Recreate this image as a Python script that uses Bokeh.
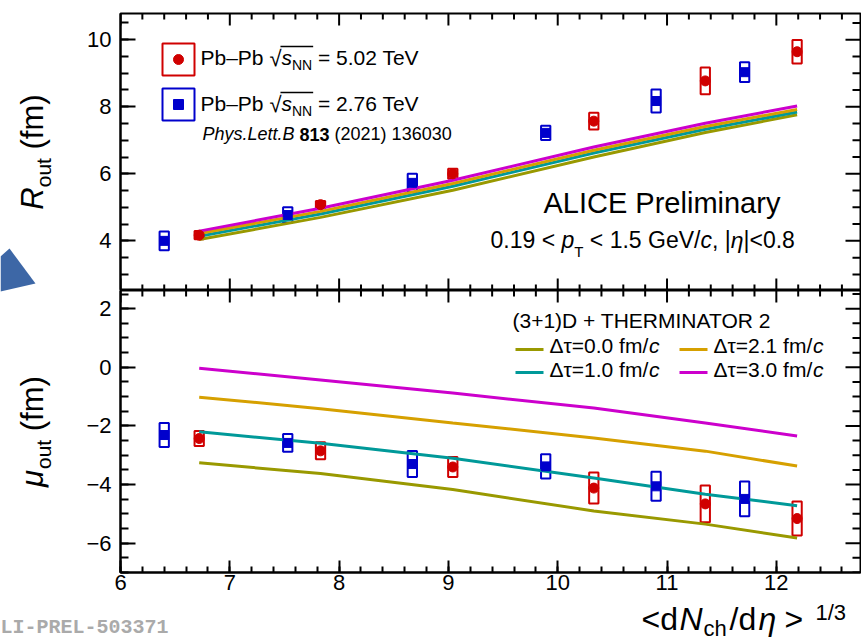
import math
import numpy as np
from bokeh.plotting import figure
from bokeh.models import Range1d, LinearAxis, SingleIntervalTicker, Label
from bokeh.layouts import column, row
from bokeh.embed import file_html
from bokeh.resources import INLINE

# ---------------- data ----------------
mult_502 = [6.72, 7.83, 9.04, 10.33, 11.35, 12.19]
mult_276 = [6.40, 7.53, 8.67, 9.89, 10.90, 11.71]

rout_502 = [4.17, 5.08, 6.00, 7.57, 8.77, 9.64]
rout_502_sys = [0.25, 0.22, 0.30, 0.50, 0.80, 0.70]
rout_276 = [4.00, 4.77, 5.73, 7.22, 8.17, 9.03]
rout_276_sys = [0.56, 0.46, 0.54, 0.42, 0.69, 0.59]

mu_502 = [-2.43, -2.85, -3.40, -4.12, -4.66, -5.16]
mu_502_sys = [0.51, 0.58, 0.68, 1.06, 1.26, 1.16]
mu_276 = [-2.31, -2.58, -3.30, -3.38, -4.06, -4.49]
mu_276_sys = [0.82, 0.61, 0.89, 0.82, 0.99, 1.19]

model_x = [6.72, 7.83, 9.04, 10.33, 11.35, 12.19]
rout_dt00 = [4.04, 4.70, 5.51, 6.50, 7.23, 7.76]
rout_dt10 = [4.14, 4.80, 5.63, 6.62, 7.33, 7.84]
rout_dt21 = [4.22, 4.88, 5.71, 6.70, 7.41, 7.92]
rout_dt30 = [4.29, 4.97, 5.81, 6.80, 7.51, 8.02]
mu_dt00 = [-3.26, -3.62, -4.17, -4.90, -5.35, -5.82]
mu_dt10 = [-2.20, -2.59, -3.10, -3.78, -4.33, -4.72]
mu_dt21 = [-1.02, -1.41, -1.90, -2.41, -2.86, -3.37]
mu_dt30 = [-0.03, -0.43, -0.88, -1.39, -1.90, -2.34]

x_ticks = [6, 7, 8, 9, 10, 11, 12]
x_tick_labels = ["6", "7", "8", "9", "10", "11", "12"]
rout_ticks = [4, 6, 8, 10]
rout_tick_labels = ["4", "6", "8", "10"]
mu_ticks = [2, 0, -2, -4, -6]
mu_tick_labels = ["2", "0", "\u22122", "\u22124", "\u22126"]

# ---------------- styles / layout ----------------
FONT = "Liberation Sans"
RED = "#d00000"
BLUE = "#0000cc"
OLIVE = "#999900"
CYAN = "#009999"
ORANGE = "#d6a000"
MAGENTA = "#cc00cc"

LW = 60             # left strip (y titles)
MAIN_W = 801
BL, BR = 60, 1      # inside main figures
X0, X1 = 6.0, 12.77
P1_H, P1_BT = 290, 13
P2_FH, P2_BB = 282, 27
P2_H = P2_FH + P2_BB
TOTAL_H = 640
STRIP_H = TOTAL_H - P1_H - P2_H
Y1_0, Y1_1 = 2.52, 10.78
Y2_0, Y2_1 = -7.0, 2.62
BASE_COMP = 0.36    # Label baseline correction (fraction of font size)

FRAME_L = LW + BL
XS = (MAIN_W - BL - BR) / (X1 - X0)
TS = (P1_H - P1_BT) / (Y1_1 - Y1_0)
BS = P2_FH / (Y2_1 - Y2_0)


def ix(px):
    return X0 + (px - FRAME_L) / XS


def iy1(py):
    return Y1_1 - (py - P1_BT) / TS


def iy2(py):
    return Y2_1 - (py - P1_H) / BS


WID = {' ': 278, '(': 333, ')': 333, '+': 584, ',': 278, '-': 333, '.': 278, '/': 278,
       '<': 584, '=': 584, '>': 584, 'A': 667, 'B': 667, 'C': 722, 'D': 722, 'E': 667,
       'G': 778, 'H': 722, 'I': 278, 'L': 556, 'M': 833, 'N': 722, 'O': 778, 'P': 667,
       'R': 722, 'T': 611, 'V': 667, 'a': 556, 'b': 556, 'c': 500, 'd': 556, 'e': 556,
       'f': 278, 'h': 556, 'i': 222, 'l': 222, 'm': 833, 'n': 556, 'o': 556, 'p': 556,
       'r': 333, 's': 500, 't': 278, 'u': 556, 'y': 500, '|': 260, '\u2013': 556,
       '\u221a': 549, '\u0394': 668, '\u03c4': 430, '\u03b7': 556, '\u03bc': 576}


def tw(s, size):
    return sum(WID.get(ch, 556) for ch in s) / 1000.0 * size


def put(p, x, y, text, size, style="normal", xo=0.0, yo=0.0, angle=0.0,
        color="black", font=FONT):
    comp = BASE_COMP * size
    if angle == 0:
        yo += comp
    else:
        xo -= comp
    p.add_layout(Label(x=x, y=y, x_offset=xo, y_offset=yo, text=text, text_font=font,
                       text_font_size=f"{size}px", text_font_style=style,
                       text_color=color, text_baseline="alphabetic",
                       text_align="left", angle=angle))


def rich(p, x, y, segs, angle=0.0, color="black"):
    adv = 0.0
    starts = []
    for text, size, style, dy in segs:
        starts.append(adv)
        lead = len(text) - len(text.lstrip(" "))
        a = adv + tw(" " * lead, size)
        if angle == 0:
            xo, yo = a, dy
        else:
            xo, yo = -dy, a
        put(p, x, y, text.strip(" "), size, style, xo, yo, angle, color)
        adv += tw(text, size)
    starts.append(adv)
    return starts


def blank_fig(w, h, xr, yr):
    f = figure(width=w, height=h, x_range=xr, y_range=yr, output_backend="svg",
               toolbar_location=None, x_axis_location=None, y_axis_location=None,
               min_border=0, title=None)
    f.grid.visible = False
    f.outline_line_color = None
    f.background_fill_color = "white"
    f.border_fill_color = "white"
    return f


xr = Range1d(X0, X1)


def make_fig(height, yr, mb_top, mb_bottom):
    p = figure(width=MAIN_W, height=height, x_range=xr, y_range=yr,
               output_backend="svg", toolbar_location=None, title=None,
               x_axis_location=None, y_axis_location=None,
               min_border_left=BL, min_border_right=BR,
               min_border_top=mb_top, min_border_bottom=mb_bottom)
    p.grid.visible = False
    p.outline_line_color = "black"
    p.outline_line_width = 2
    p.background_fill_color = "white"
    p.border_fill_color = "white"
    return p


def style_axis(ax, is_x):
    ax.axis_line_width = 2
    ax.axis_line_color = "black"
    ax.major_tick_in = 12 if is_x else 15
    ax.major_tick_out = 0
    ax.minor_tick_in = 6 if is_x else 8
    ax.minor_tick_out = 0
    ax.major_tick_line_width = 2
    ax.minor_tick_line_width = 2
    ax.major_label_text_font = FONT
    ax.major_label_text_font_size = "22px"
    ax.major_label_text_color = "black"
    ax.major_label_standoff = 2 if is_x else 9


# tick positions for the mirrored (unlabelled) frame sides
xt_all = np.round(np.arange(6.0, X1, 0.2), 3)
xt_major = [v for v in xt_all if abs(v - round(v)) < 1e-6]
xt_minor = [v for v in xt_all if abs(v - round(v)) >= 1e-6]


def y_tick_sets(lo, hi):
    allv = np.round(np.arange(math.ceil(lo * 2) / 2.0, hi, 0.5), 3)
    maj = [v for v in allv if abs(v / 2.0 - round(v / 2.0)) < 1e-6]
    mnr = [v for v in allv if abs(v / 2.0 - round(v / 2.0)) >= 1e-6]
    return maj, mnr


def x_mirror(p, yedge):
    p.scatter(xt_major, [yedge] * len(xt_major), marker="dash", angle=math.pi / 2,
              size=24, line_color="black", line_width=2)
    p.scatter(xt_minor, [yedge] * len(xt_minor), marker="dash", angle=math.pi / 2,
              size=12, line_color="black", line_width=2)


def y_mirror(p, lo, hi):
    maj, mnr = y_tick_sets(lo, hi)
    p.scatter([X1] * len(maj), maj, marker="dash", size=30, line_color="black", line_width=2)
    p.scatter([X1] * len(mnr), mnr, marker="dash", size=16, line_color="black", line_width=2)


# ---------------- top panel ----------------
p1 = make_fig(P1_H, Range1d(Y1_0, Y1_1), P1_BT, 0)
ax = LinearAxis(ticker=SingleIntervalTicker(interval=2, num_minor_ticks=4))
style_axis(ax, False)
ax.major_label_overrides = dict(zip(rout_ticks, rout_tick_labels))
p1.add_layout(ax, "left")
x_mirror(p1, Y1_1)
x_mirror(p1, Y1_0)
y_mirror(p1, Y1_0, Y1_1)

p1.rect(x=mult_276, y=rout_276, width=0.085, height=rout_276_sys, fill_color=None,
        line_color=BLUE, line_width=2)
p1.rect(x=mult_502, y=rout_502, width=0.085, height=rout_502_sys, fill_color=None,
        line_color=RED, line_width=2)
for ys, c in [(rout_dt00, OLIVE), (rout_dt10, CYAN), (rout_dt21, ORANGE), (rout_dt30, MAGENTA)]:
    p1.line(model_x, ys, line_color=c, line_width=3)
p1.scatter(mult_276, rout_276, marker="square", size=9, color=BLUE)
p1.scatter(mult_502, rout_502, marker="circle", size=10, color=RED)

# legend (top)
p1.scatter([ix(178)], [iy1(59)], marker="square", size=32, fill_color=None,
           line_color=RED, line_width=2)
p1.scatter([ix(178)], [iy1(59)], marker="circle", size=10, color=RED)
p1.scatter([ix(178)], [iy1(104)], marker="square", size=32, fill_color=None,
           line_color=BLUE, line_width=2)
p1.scatter([ix(178)], [iy1(104)], marker="square", size=10, color=BLUE)

for base, energy in [(65, " = 5.02 TeV"), (111, " = 2.76 TeV")]:
    st = rich(p1, ix(200), iy1(base), [("Pb\u2013Pb ", 21, "normal", 0),
                                        ("\u221a", 22, "normal", -1),
                                        ("s", 21, "italic", 0),
                                        ("NN", 14, "normal", -5),
                                        (energy, 21, "normal", 0)])
    s0, s1 = st[2], st[4]
    p1.scatter([ix(200 + (s0 + s1) / 2.0)], [iy1(base - 19)], marker="dash",
               size=s1 - s0 + 2, line_color="black", line_width=1.3)

rich(p1, ix(202), iy1(140), [("Phys.Lett.B ", 18, "italic", 0), ("813", 18, "bold", 0),
                             (" (2021) 136030", 18, "normal", 0)])

rich(p1, ix(543), iy1(213), [("ALICE Preliminary", 29, "normal", 0)])
rich(p1, ix(490), iy1(248), [("0.19 < ", 23, "normal", 0), ("p", 23, "italic", 0),
                             ("T", 15, "normal", -8), (" < 1.5 GeV/", 23, "normal", 0),
                             ("c", 23, "italic", 0), (", |", 23, "normal", 0),
                             ("\u03b7", 23, "italic", 0), ("|<0.8", 23, "normal", 0)])

# ---------------- bottom panel ----------------
p2 = make_fig(P2_H, Range1d(Y2_0, Y2_1), 0, P2_BB)
axy = LinearAxis(ticker=SingleIntervalTicker(interval=2, num_minor_ticks=4))
style_axis(axy, False)
axy.major_label_overrides = dict(zip(mu_ticks, mu_tick_labels))
p2.add_layout(axy, "left")
axx = LinearAxis(ticker=SingleIntervalTicker(interval=1, num_minor_ticks=5))
style_axis(axx, True)
axx.major_label_overrides = dict(zip(x_ticks, x_tick_labels))
p2.add_layout(axx, "below")
x_mirror(p2, Y2_1)
y_mirror(p2, Y2_0, Y2_1)

p2.rect(x=mult_276, y=mu_276, width=0.085, height=mu_276_sys, fill_color=None,
        line_color=BLUE, line_width=2)
p2.rect(x=mult_502, y=mu_502, width=0.085, height=mu_502_sys, fill_color=None,
        line_color=RED, line_width=2)
for ys, c in [(mu_dt00, OLIVE), (mu_dt10, CYAN), (mu_dt21, ORANGE), (mu_dt30, MAGENTA)]:
    p2.line(model_x, ys, line_color=c, line_width=3)
p2.scatter(mult_276, mu_276, marker="square", size=9, color=BLUE)
p2.scatter(mult_502, mu_502, marker="circle", size=10, color=RED)

# legend (bottom)
rich(p2, ix(512), iy2(328), [("(3+1)D + THERMINATOR 2", 21, "normal", 0)])
leg = [(529, 549, 349, 353, OLIVE, "\u0394\u03c4=0.0 fm/"),
       (693, 713, 349, 353, ORANGE, "\u0394\u03c4=2.1 fm/"),
       (529, 549, 372, 377, CYAN, "\u0394\u03c4=1.0 fm/"),
       (693, 713, 372, 377, MAGENTA, "\u0394\u03c4=3.0 fm/")]
for lx, tx, ly, ty, c, t in leg:
    p2.scatter([ix(lx)], [iy2(ly)], marker="dash", size=28, line_color=c, line_width=3)
    rich(p2, ix(tx), iy2(ty), [(t, 21, "normal", 0), ("c", 21, "italic", 0)])

# ---------------- left strip: y titles ----------------
LH = P1_H + P2_H
ls = blank_fig(LW, LH, Range1d(0, LW), Range1d(LH, 0))
ttl1 = [("R", 31, "italic", 0), ("out", 21, "normal", -8), (" (fm)", 31, "normal", 0)]
len1 = sum(tw(t, s) for t, s, _, _ in ttl1)
rich(ls, 43, (P1_BT + P1_H) / 2.0 + len1 / 2.0, ttl1, angle=math.pi / 2)
ttl2 = [("\u03bc", 31, "italic", 0), ("out", 21, "normal", -8), (" (fm)", 31, "normal", 0)]
len2 = sum(tw(t, s) for t, s, _, _ in ttl2)
rich(ls, 43, P1_H + P2_FH / 2.0 + len2 / 2.0, ttl2, angle=math.pi / 2)
ls.patch([0, 9, 35, 0], [256, 248, 283, 291], fill_color="#3d67a6", line_color=None)

# ---------------- bottom strip: x title ----------------
SW = LW + MAIN_W
bs = blank_fig(SW, STRIP_H, Range1d(0, SW), Range1d(TOTAL_H, LH))
xtitle = [("<d", 32, "normal", 641, 630), ("N", 32, "italic", 679, 630),
          ("ch", 22, "normal", 703, 636), ("/d", 32, "normal", 729, 630),
          ("\u03b7", 32, "italic", 758, 630), (">", 32, "normal", 784, 630),
          ("1/3", 22, "normal", 815, 620)]
for t, s, st_, x_, y_ in xtitle:
    put(bs, x_, y_, t, s, st_)
put(bs, 0, 634, "LI-PREL-503371", 20, "bold", color="#aaaaaa", font="Liberation Mono")

layout = column(row(ls, column(p1, p2, spacing=0), spacing=0), bs, spacing=0)
open("out.html", "w").write(file_html(layout, INLINE))
